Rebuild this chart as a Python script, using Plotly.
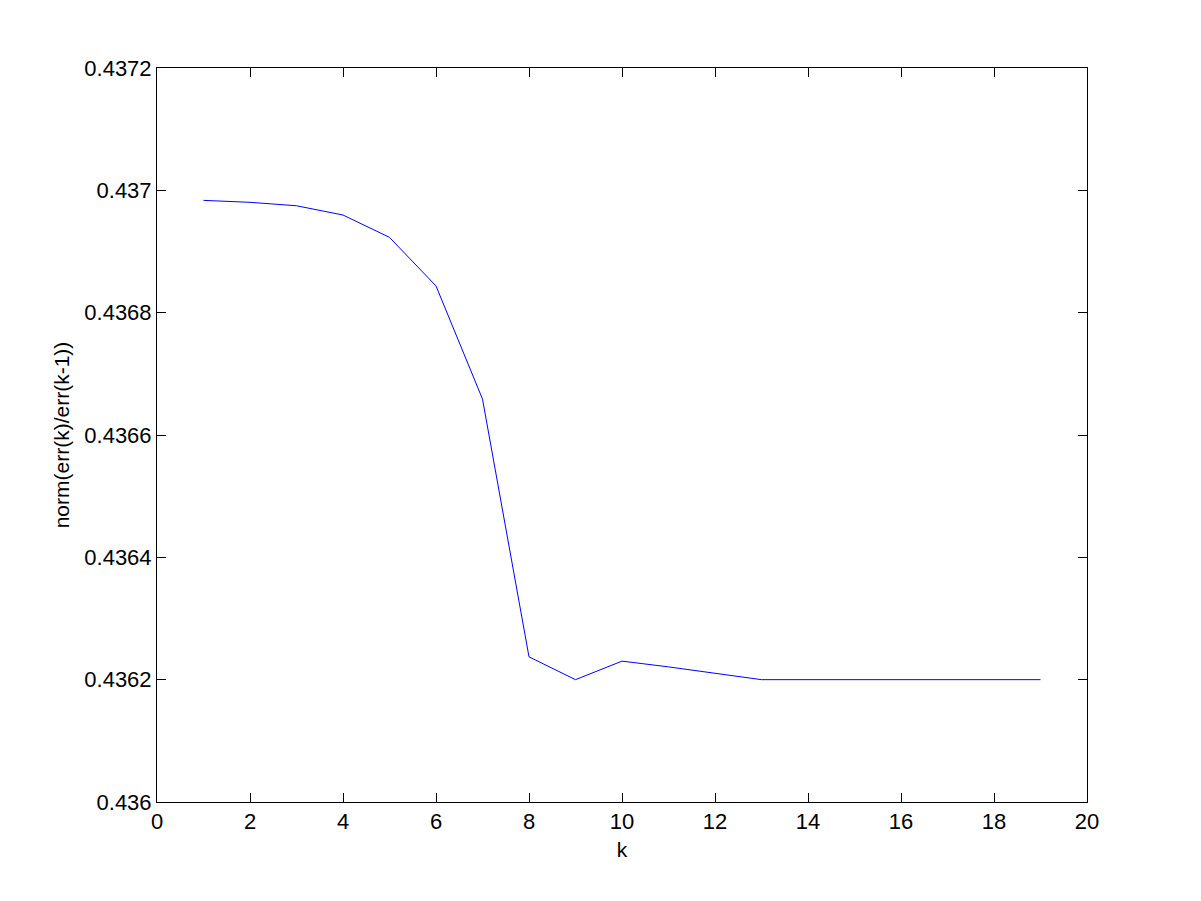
import plotly.graph_objects as go

# iteration index and ratio values
k = [1, 2, 3, 4, 5, 6, 7, 8, 9, 10, 11, 12, 13, 14, 15, 16, 17, 18, 19]
ratio = [
    0.4369836, 0.4369804, 0.4369748, 0.4369596, 0.4369231, 0.4368437,
    0.4366587, 0.4362373, 0.4362000, 0.4362303, 0.4362209, 0.4362110,
    0.4362000, 0.4362000, 0.4362000, 0.4362000, 0.4362000, 0.4362000,
    0.4362000,
]

x_ticks = [0, 2, 4, 6, 8, 10, 12, 14, 16, 18, 20]
y_ticks = [0.436, 0.4362, 0.4364, 0.4366, 0.4368, 0.437, 0.4372]
y_labels = ["0.436", "0.4362", "0.4364", "0.4366", "0.4368", "0.437", "0.4372"]

tick_font = dict(family="Liberation Sans, Arial, sans-serif", size=22, color="black")
title_font = dict(family="Liberation Sans, Arial, sans-serif", size=21, color="black")

fig = go.Figure(
    go.Scatter(
        x=k,
        y=ratio,
        mode="lines",
        line=dict(color="#0000ff", width=1),
        showlegend=False,
    )
)

axis_style = dict(
    showgrid=False,
    zeroline=False,
    showline=True,
    linecolor="black",
    linewidth=1,
    mirror="allticks",
    ticks="inside",
    ticklen=9,
    tickwidth=1,
    tickcolor="black",
    tickfont=tick_font,
)

fig.update_xaxes(
    range=[0, 20],
    tickvals=x_ticks,
    ticktext=[str(v) for v in x_ticks],
    title=dict(text="k", font=title_font, standoff=8),
    **axis_style,
)
fig.update_yaxes(
    range=[0.436, 0.4372],
    tickvals=y_ticks,
    ticktext=y_labels,
    title=dict(text="norm(err(k)/err(k-1))", font=title_font, standoff=8),
    **axis_style,
)

# page body adds an 8px offset, so the figure is a bit smaller than the window
fig.update_layout(
    width=1185,
    height=885,
    plot_bgcolor="white",
    paper_bgcolor="white",
    font=tick_font,
    margin=dict(l=149, r=106, t=60, b=91),
)

fig.write_html("out.html")
